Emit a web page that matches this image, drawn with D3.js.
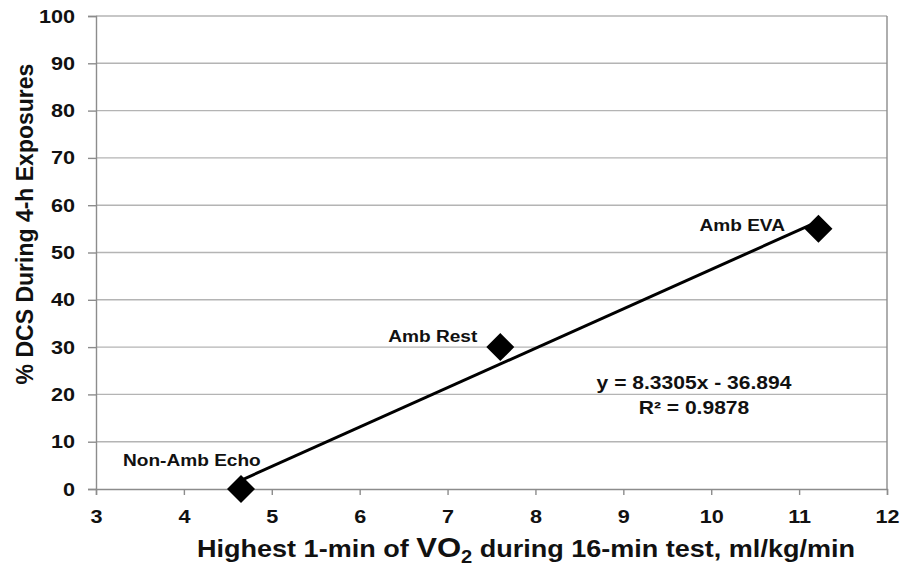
<!DOCTYPE html>
<html>
<head>
<meta charset="utf-8">
<script src="https://cdn.jsdelivr.net/npm/d3@7"></script>
<style>
  html, body { margin: 0; padding: 0; background: #fff; }
  svg { display: block; font-family: "Liberation Sans", Arial, sans-serif; font-weight: bold; }
</style>
</head>
<body>
<svg id="chart" width="911" height="577"></svg>
<script>
// Exposure groups: peak VO2 (ml/kg/min) vs % DCS
const groups = ["Non-Amb Echo", "Amb Rest", "Amb EVA"];
const vo2 = [4.65, 7.6, 11.22];
const dcs = [0, 30, 55];

// Linear trend fitted to the groups
const slope = 8.3305;
const intercept = -36.894;
const rSquared = 0.9878;

const xTicks = [3, 4, 5, 6, 7, 8, 9, 10, 11, 12];
const yTicks = [0, 10, 20, 30, 40, 50, 60, 70, 80, 90, 100];

const margin = { left: 96, right: 24, top: 16, bottom: 88 };
const W = 911, H = 577;
const SX = 1.15; // horizontal widening of the bold type
const svg = d3.select("#chart");

const x = d3.scaleLinear().domain([3, 12]).range([margin.left, W - margin.right]);
const y = d3.scaleLinear().domain([0, 100]).range([H - margin.bottom, margin.top]);

// Place a text at (px, py) with widened glyphs
function widen(sel, px, py) {
  sel.attr("x", 0).attr("y", 0)
    .attr("transform", (d, i, n) => {
      const X = typeof px === "function" ? px(d, i, n) : px;
      const Y = typeof py === "function" ? py(d, i, n) : py;
      return `translate(${X},${Y}) scale(${SX},1)`;
    });
  return sel;
}

// Horizontal gridlines
svg.append("g").selectAll("line").data(yTicks.filter(d => d > 0)).join("line")
  .attr("x1", x(3)).attr("x2", x(12))
  .attr("y1", d => y(d)).attr("y2", d => y(d))
  .attr("stroke", "#b4b4b4").attr("stroke-width", 1.4);

// Right border of plot area
svg.append("line")
  .attr("x1", x(12)).attr("x2", x(12)).attr("y1", y(0)).attr("y2", y(100))
  .attr("stroke", "#8c8c8c").attr("stroke-width", 1.4);

// Axes
const yAxis = svg.append("g").attr("transform", `translate(${x(3)},0)`)
  .call(d3.axisLeft(y).tickValues(yTicks).tickSize(8).tickPadding(13).tickFormat(d3.format("d")));
const xAxis = svg.append("g").attr("transform", `translate(0,${y(0)})`)
  .call(d3.axisBottom(x).tickValues(xTicks).tickSize(6).tickPadding(15).tickFormat(d3.format("d")));

[yAxis, xAxis].forEach(g => {
  g.select(".domain").attr("stroke", "#8c8c8c").attr("stroke-width", 1.4);
  g.selectAll(".tick line").attr("stroke", "#8c8c8c").attr("stroke-width", 1.4);
  g.selectAll(".tick text")
    .attr("fill", "#111")
    .style("font-family", "'Liberation Sans', Arial, sans-serif")
    .style("font-weight", "bold")
    .style("font-size", "18.8px");
});
// widen tick labels about their anchor points
yAxis.selectAll(".tick text").each(function () {
  const t = d3.select(this);
  const tx = +t.attr("x");
  t.attr("x", 0).attr("transform", `translate(${tx},0) scale(${SX},1)`);
});
xAxis.selectAll(".tick text").attr("transform", `scale(${SX},1)`);

// Trend line across the observed range
const xMin = d3.min(vo2), xMax = d3.max(vo2);
svg.append("line")
  .attr("x1", x(xMin)).attr("y1", y(slope * xMin + intercept))
  .attr("x2", x(xMax)).attr("y2", y(slope * xMax + intercept))
  .attr("stroke", "#000").attr("stroke-width", 3);

// Diamond markers
svg.append("g").selectAll("path").data(vo2).join("path")
  .attr("transform", (d, i) => `translate(${x(d)},${y(dcs[i])})`)
  .attr("d", d3.symbol().type(d3.symbolDiamond2).size(500))
  .attr("fill", "#000");

// Point labels, offset from their markers
const labelOffset = [[-118, -23], [-112, -5], [-119, 2]];
widen(
  svg.append("g").selectAll("text").data(groups).join("text")
    .attr("font-size", "16.6px").attr("fill", "#111").text(d => d),
  (d, i) => x(vo2[i]) + labelOffset[i][0],
  (d, i) => y(dcs[i]) + labelOffset[i][1]
);

// Trend equation
const eq = svg.append("g").attr("font-size", "18.3px").attr("fill", "#111").attr("text-anchor", "middle");
widen(eq.append("text").text(`y = ${slope}x - ${Math.abs(intercept)}`), 694, 389);
widen(eq.append("text").text(`R² = ${rSquared}`), 694, 414);

// Axis titles
svg.append("text")
  .attr("transform", "translate(33,224) rotate(-90)")
  .attr("text-anchor", "middle").attr("font-size", "23px").attr("fill", "#111")
  .text("% DCS During 4-h Exposures");

const xt = widen(svg.append("text"), 526, 557)
  .attr("text-anchor", "middle").attr("font-size", "23.5px").attr("fill", "#111");
xt.append("tspan").text("Highest 1-min of ");
xt.append("tspan").attr("font-size", "27px").text("VO");
xt.append("tspan").attr("font-size", "17.5px").attr("dy", 6).text("2");
xt.append("tspan").attr("dy", -6).text(" during 16-min test, ml/kg/min");
</script>
</body>
</html>
